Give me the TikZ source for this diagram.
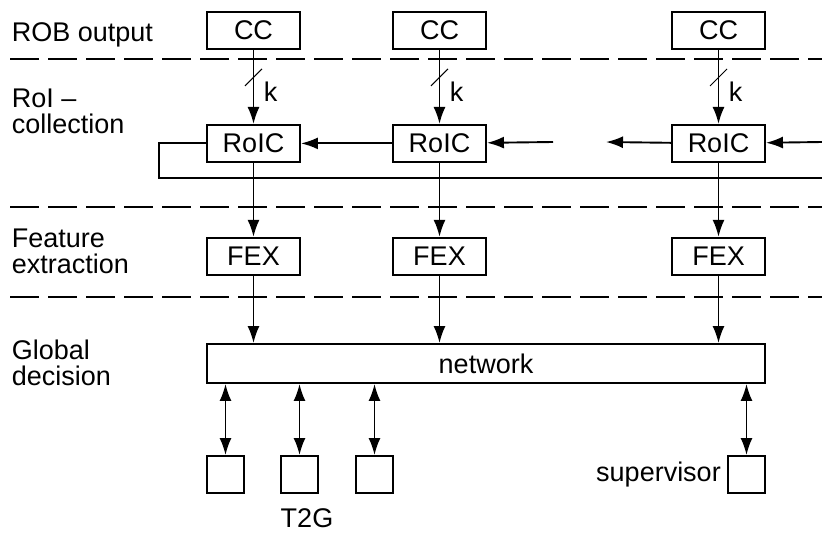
\documentclass[tikz,border=0pt]{standalone}
\usepackage{fontspec}
\setmainfont{Liberation Sans}
\usetikzlibrary{positioning, arrows.meta}

\begin{document}
\begin{tikzpicture}[x=1pt, y=-1pt, line width=1.9pt,
  font=\fontsize{27}{26}\selectfont,
  >={Latex[length=17pt, width=12pt]},
  box/.style={rectangle, draw, minimum width=93pt, minimum height=37pt, inner sep=0pt},
  endbox/.style={rectangle, draw, minimum width=37pt, minimum height=37pt, inner sep=0pt},
  stage/.style={align=left, anchor=west, inner sep=0pt},
  sep/.style={line width=1.9pt, dash pattern=on 29pt off 9pt},
  slash/.style={line width=1pt}]
\useasboundingbox (0,0) rectangle (822,533);

% stage names
\node [stage] (rob) at (11,35) {ROB output};
\node [stage] (coll) at (11,111) {RoI --\\collection};
\node [stage] (feat) at (11,251) {Feature\\extraction};
\node [stage] (glob) at (11,363) {Global\\decision};

\draw [sep] (10,59) -- (822,59);
\draw [sep] (10,207) -- (822,207);
\draw [sep] (10,297) -- (822,297);

% columns
\node [box] (cc1) at (253.5,30.5) {CC};
\node [box] (cc2) at (439.5,30.5) {CC};
\node [box] (cc3) at (718.5,30.5) {CC};
\node [box, below = 74pt of cc1] (roic1) {RoIC};
\node [box, below = 74pt of cc2] (roic2) {RoIC};
\node [box, below = 74pt of cc3] (roic3) {RoIC};
\node [box, below = 74pt of roic1] (fex1) {FEX};
\node [box, below = 74pt of roic2] (fex2) {FEX};
\node [box, below = 74pt of roic3] (fex3) {FEX};
\node [rectangle, draw, minimum width=558pt, minimum height=39pt] (net) at (486,363.5) {network};

\foreach \i in {1,2,3} {
  \draw [->] (cc\i) -- (roic\i);
  \draw [slash] (cc\i.south) ++(-8.5,36) -- ++(17,-17);
  \path (cc\i.south) ++(17,42) node (k\i) {k};
  \draw [->] (roic\i) -- (fex\i);
  \draw [->] (fex\i) -- (fex\i |- net.north);
}

% RoIC ring
\coordinate (gapR) at (553,142);
\coordinate (gapL) at (606,142);
\coordinate (edgeR) at (822,142);
\coordinate (busL) at (159,178);
\coordinate (busR) at (822,178);
\draw [->] (roic2) -- (roic1);
\draw [->] (gapR) -- (roic2);
\draw [->] (roic3) -- (gapL);
\draw [->] (edgeR) -- (roic3);
\draw (roic1.west) -| (busL) -- (busR);

% global decision
\node [endbox] (out1) at (225.5,474.5) {};
\node [endbox] (out2) at (299.5,474.5) {};
\node [endbox] (out3) at (374.5,474.5) {};
\node [endbox] (sup) at (746.5,474.5) {};
\node (t2g) at (307,518) {T2G};
\node [left = 2pt of sup] (suplbl) {supervisor};

\draw [<->] (out1) -- (out1 |- net.south);
\draw [<->] (out2) -- (out2 |- net.south);
\draw [<->] (out3) -- (out3 |- net.south);
\draw [<->] (sup) -- (sup |- net.south);

\end{tikzpicture}
\end{document}
